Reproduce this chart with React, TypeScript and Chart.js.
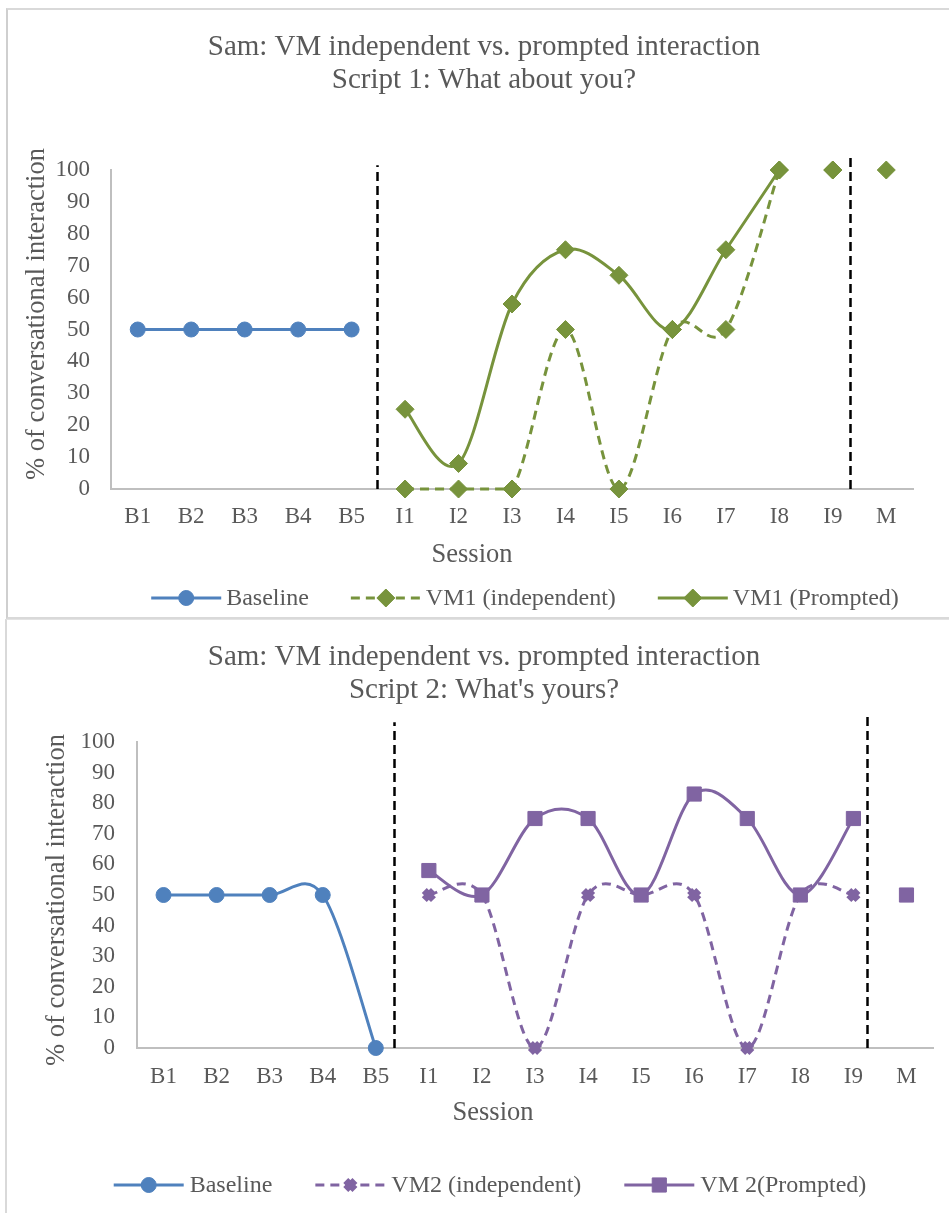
import React, { useEffect, useRef } from 'react';
import { Chart, registerables } from 'chart.js';

Chart.register(...registerables);

// ---------- data ----------
const sessions = ['B1', 'B2', 'B3', 'B4', 'B5', 'I1', 'I2', 'I3', 'I4', 'I5', 'I6', 'I7', 'I8', 'I9', 'M'];
const yMin = 0;
const yMax = 100;
const yStep = 10;
const xTitle = 'Session';
const yTitle = '% of conversational interaction';

const title1 = ['Sam: VM independent vs. prompted interaction', 'Script 1: What about you?'];
const legend1 = ['Baseline', 'VM1 (independent)', 'VM1 (Prompted)'];
const baseline1 = [50, 50, 50, 50, 50, null, null, null, null, null, null, null, null, null, null];
const vm1Independent = [null, null, null, null, null, 0, 0, 0, 50, 0, 50, 50, 100, 100, null];
const vm1Prompted = [null, null, null, null, null, 25, 8, 58, 75, 67, 50, 75, 100, 100, 100];

const title2 = ['Sam: VM independent vs. prompted interaction', "Script 2: What's yours?"];
const legend2 = ['Baseline', 'VM2 (independent)', 'VM 2(Prompted)'];
const baseline2 = [50, 50, 50, 50, 0, null, null, null, null, null, null, null, null, null, null];
const vm2Independent = [null, null, null, null, null, 50, 50, 0, 50, 50, 50, 0, 50, 50, null];
const vm2Prompted = [null, null, null, null, null, 58, 50, 75, 75, 50, 83, 75, 50, 75, 50];

// ---------- style ----------
const FONT = '"Liberation Serif", "Times New Roman", serif';
const TEXT = '#595959';
const AXIS = '#bfbfbf';
const BLUE = '#4F81BD';
const GREEN = '#77933C';
const PURPLE = '#8064A2';
const W = 949;

type Marker = { style: string; r: number; bw: number };

function drawMarker(ctx: CanvasRenderingContext2D, m: Marker, x: number, y: number, color: string) {
  ctx.save();
  ctx.setLineDash([]);
  ctx.fillStyle = color;
  ctx.strokeStyle = color;
  ctx.lineWidth = m.bw;
  ctx.beginPath();
  const r = m.r;
  const s = r * Math.SQRT1_2;
  if (m.style === 'circle') {
    ctx.arc(x, y, r, 0, Math.PI * 2);
    ctx.fill();
    ctx.stroke();
  } else if (m.style === 'rectRot') {
    ctx.moveTo(x, y - r);
    ctx.lineTo(x + r, y);
    ctx.lineTo(x, y + r);
    ctx.lineTo(x - r, y);
    ctx.closePath();
    ctx.fill();
    ctx.stroke();
  } else if (m.style === 'rect') {
    ctx.rect(x - s, y - s, 2 * s, 2 * s);
    ctx.fill();
    ctx.stroke();
  } else if (m.style === 'crossRot') {
    ctx.moveTo(x - s, y - s);
    ctx.lineTo(x + s, y + s);
    ctx.moveTo(x + s, y - s);
    ctx.lineTo(x - s, y + s);
    ctx.stroke();
  }
  ctx.restore();
}

const excelLook = {
  id: 'excelLook',
  // Excel-like smoothing: control points at +/- (next - prev) / 6, capped to the plot area
  beforeDatasetDraw(chart: any, args: any, opts: any) {
    const meta = args.meta;
    const line = meta.dataset;
    if (!line) return;
    const area = chart.chartArea;
    line.updateControlPoints(area, meta.indexAxis);
    const pts = meta.data;
    const vals = chart.data.datasets[args.index].data;
    const brk = opts.breakFrom;
    const ok = (i: number) => i >= 0 && i < pts.length && vals[i] !== null && vals[i] !== undefined;
    const linked = (a: number, b: number) => ok(a) && ok(b) && a < brk;
    const cx = (v: number) => Math.max(area.left, Math.min(area.right, v));
    const cy = (v: number) => Math.max(area.top, Math.min(area.bottom, v));
    for (let i = 0; i < pts.length; i++) {
      if (!ok(i)) continue;
      const p = pts[i];
      const prev = linked(i - 1, i) ? pts[i - 1] : p;
      const next = linked(i, i + 1) ? pts[i + 1] : p;
      const dx = (next.x - prev.x) / 6;
      const dy = (next.y - prev.y) / 6;
      p.cp1x = cx(p.x - dx);
      p.cp1y = cy(p.y - dy);
      p.cp2x = cx(p.x + dx);
      p.cp2y = cy(p.y + dy);
    }
  },
  afterDatasetsDraw(chart: any, _args: any, opts: any) {
    const ctx = chart.ctx;
    const xs = chart.scales.x;
    const ys = chart.scales.y;
    ctx.save();
    ctx.strokeStyle = '#000000';
    ctx.lineWidth = 2.5;
    ctx.setLineDash([9, 5]);
    for (const pl of opts.phaseLines) {
      const x = Math.round(xs.getPixelForValue(pl.at)) + 0.5;
      ctx.beginPath();
      ctx.moveTo(x, ys.getPixelForValue(0));
      ctx.lineTo(x, ys.getPixelForValue(pl.top));
      ctx.stroke();
    }
    ctx.restore();
  },
  afterDraw(chart: any, _args: any, opts: any) {
    const ctx = chart.ctx;
    ctx.save();
    ctx.fillStyle = TEXT;
    ctx.textBaseline = 'middle';
    // y axis title
    ctx.font = `${opts.axisTitleSize}px ${FONT}`;
    ctx.save();
    ctx.translate(opts.yTitleX, opts.yTitleY);
    ctx.rotate(-Math.PI / 2);
    ctx.textAlign = 'center';
    ctx.fillText(yTitle, 0, 0);
    ctx.restore();
    // x axis title
    ctx.textAlign = 'center';
    ctx.fillText(xTitle, opts.xTitleX, opts.xTitleY);
    // legend
    ctx.font = `${opts.legendSize}px ${FONT}`;
    const items = chart.data.datasets.map((ds: any) => ({
      label: ds.label,
      color: ds.borderColor,
      dash: ds.borderDash || [],
      lw: ds.borderWidth,
      marker: { style: ds.pointStyle, r: ds.pointRadius, bw: ds.pointBorderWidth },
    }));
    const sample = opts.legendSample;
    const gap = opts.legendGap;
    const itemGap = opts.legendItemGap;
    const widths = items.map((it: any) => sample + gap + ctx.measureText(it.label).width);
    const total = widths.reduce((a: number, b: number) => a + b, 0) + itemGap * (items.length - 1);
    let x = opts.legendX - total / 2;
    const y = opts.legendY;
    items.forEach((it: any, i: number) => {
      ctx.save();
      ctx.strokeStyle = it.color;
      ctx.lineWidth = it.lw;
      ctx.setLineDash(it.dash);
      ctx.beginPath();
      ctx.moveTo(x, y);
      ctx.lineTo(x + sample, y);
      ctx.stroke();
      ctx.restore();
      drawMarker(ctx, it.marker, x + sample / 2, y, it.color);
      ctx.textAlign = 'left';
      ctx.fillStyle = TEXT;
      ctx.fillText(it.label, x + sample + gap, y + 1);
      x += widths[i] + itemGap;
    });
    ctx.restore();
  },
};

function series(label: string, data: (number | null)[], color: string, marker: Marker, dashed: boolean, breakFrom: number) {
  return {
    label,
    data,
    borderColor: color,
    backgroundColor: color,
    borderWidth: 3,
    borderDash: dashed ? [9, 6] : [],
    pointStyle: marker.style,
    pointRadius: marker.r,
    pointBorderWidth: marker.bw,
    pointBackgroundColor: color,
    pointBorderColor: color,
    pointHoverRadius: marker.r,
    tension: 0.4,
    spanGaps: false,
    fill: false,
    clip: 20,
    segment: {
      borderColor: (c: any) => (c.p0DataIndex >= breakFrom ? 'rgba(0,0,0,0)' : undefined),
    },
  };
}

function makeConfig(p: any) {
  return {
    type: 'line',
    data: {
      labels: sessions,
      datasets: p.datasets,
    },
    plugins: [excelLook],
    options: {
      responsive: false,
      animation: false,
      devicePixelRatio: 1,
      events: [],
      layout: { padding: p.padding },
      plugins: {
        legend: { display: false },
        tooltip: { enabled: false },
        title: {
          display: true,
          text: p.title,
          color: TEXT,
          font: { family: FONT, size: 29, weight: 'normal', lineHeight: 1.14 },
          padding: p.titlePadding,
        },
        excelLook: p.look,
      },
      scales: {
        x: {
          type: 'category',
          offset: true,
          grid: { display: false, drawTicks: false },
          border: { display: true, color: AXIS, width: 2 },
          ticks: {
            color: TEXT,
            font: { family: FONT, size: 23 },
            padding: p.xTickPadding,
            autoSkip: false,
            maxRotation: 0,
          },
          afterFit: (s: any) => {
            s.height = 50;
          },
        },
        y: {
          min: yMin,
          max: yMax,
          grid: { display: false, drawTicks: false },
          border: { display: true, color: AXIS, width: 2 },
          ticks: {
            stepSize: yStep,
            autoSkip: false,
            color: TEXT,
            font: { family: FONT, size: 23 },
            padding: p.yTickPadding,
          },
          afterFit: (s: any) => {
            s.width = p.yWidth;
          },
        },
      },
    },
  };
}

const circle: Marker = { style: 'circle', r: 7.5, bw: 1 };
const diamond: Marker = { style: 'rectRot', r: 9, bw: 1 };
const square: Marker = { style: 'rect', r: 10, bw: 1 };
const cross: Marker = { style: 'crossRot', r: 6.5, bw: 7 };

const config1 = makeConfig({
  title: title1,
  datasets: [
    series(legend1[0], baseline1, BLUE, circle, false, 12),
    series(legend1[1], vm1Independent, GREEN, diamond, true, 12),
    series(legend1[2], vm1Prompted, GREEN, diamond, false, 12),
  ],
  padding: { left: 55, right: 36, top: 0, bottom: 79 },
  titlePadding: { top: 30.5, bottom: 73.4 },
  xTickPadding: 14,
  yTickPadding: 21,
  yWidth: 56,
  look: {
    breakFrom: 12,
    phaseLines: [
      { at: 4.48, top: 101.5 },
      { at: 13.33, top: 104 },
    ],
    axisTitleSize: 26.5,
    legendSize: 24,
    yTitleX: 37,
    yTitleY: 314,
    xTitleX: 472,
    xTitleY: 555,
    legendX: 525,
    legendY: 598,
    legendSample: 70,
    legendGap: 5,
    legendItemGap: 42,
  },
});

const config2 = makeConfig({
  title: title2,
  datasets: [
    series(legend2[0], baseline2, BLUE, circle, false, 13),
    series(legend2[1], vm2Independent, PURPLE, cross, true, 13),
    series(legend2[2], vm2Prompted, PURPLE, square, false, 13),
  ],
  padding: { left: 35, right: 16, top: 0, bottom: 115 },
  titlePadding: { top: 20.5, bottom: 35.4 },
  xTickPadding: 15,
  yTickPadding: 22,
  yWidth: 102,
  look: {
    breakFrom: 13,
    phaseLines: [
      { at: 4.35, top: 106.5 },
      { at: 13.26, top: 109 },
    ],
    axisTitleSize: 26.5,
    legendSize: 24,
    yTitleX: 57,
    yTitleY: 280,
    xTitleX: 493,
    xTitleY: 493,
    legendX: 490,
    legendY: 565,
    legendSample: 70,
    legendGap: 6,
    legendItemGap: 43,
  },
});

function ChartCanvas({ config, top, height }: { config: any; top: number; height: number }) {
  const ref = useRef<HTMLCanvasElement>(null);
  useEffect(() => {
    const chart = new Chart(ref.current as HTMLCanvasElement, config);
    return () => chart.destroy();
  }, [config]);
  return (
    <canvas
      ref={ref}
      width={W}
      height={height}
      style={{ position: 'absolute', left: 0, top, width: W, height, display: 'block' }}
    />
  );
}

export default function App() {
  return (
    <div style={{ position: 'absolute', left: 0, top: 0, width: W, height: 1213, overflow: 'hidden', background: '#ffffff' }}>
      <div
        style={{
          position: 'absolute',
          left: 6,
          top: 8,
          width: 960,
          height: 611,
          boxSizing: 'border-box',
          borderLeft: '2px solid #cfcfcf',
          borderTop: '2px solid #d9d9d9',
          borderBottom: '2px solid #d9d9d9',
        }}
      />
      <div
        style={{
          position: 'absolute',
          left: 5,
          top: 619,
          width: 960,
          height: 620,
          boxSizing: 'border-box',
          borderLeft: '2px solid #d9d9d9',
          borderTop: '1px solid #e3e3e3',
        }}
      />
      <ChartCanvas config={config1} top={0} height={618} />
      <ChartCanvas config={config2} top={620} height={593} />
    </div>
  );
}
